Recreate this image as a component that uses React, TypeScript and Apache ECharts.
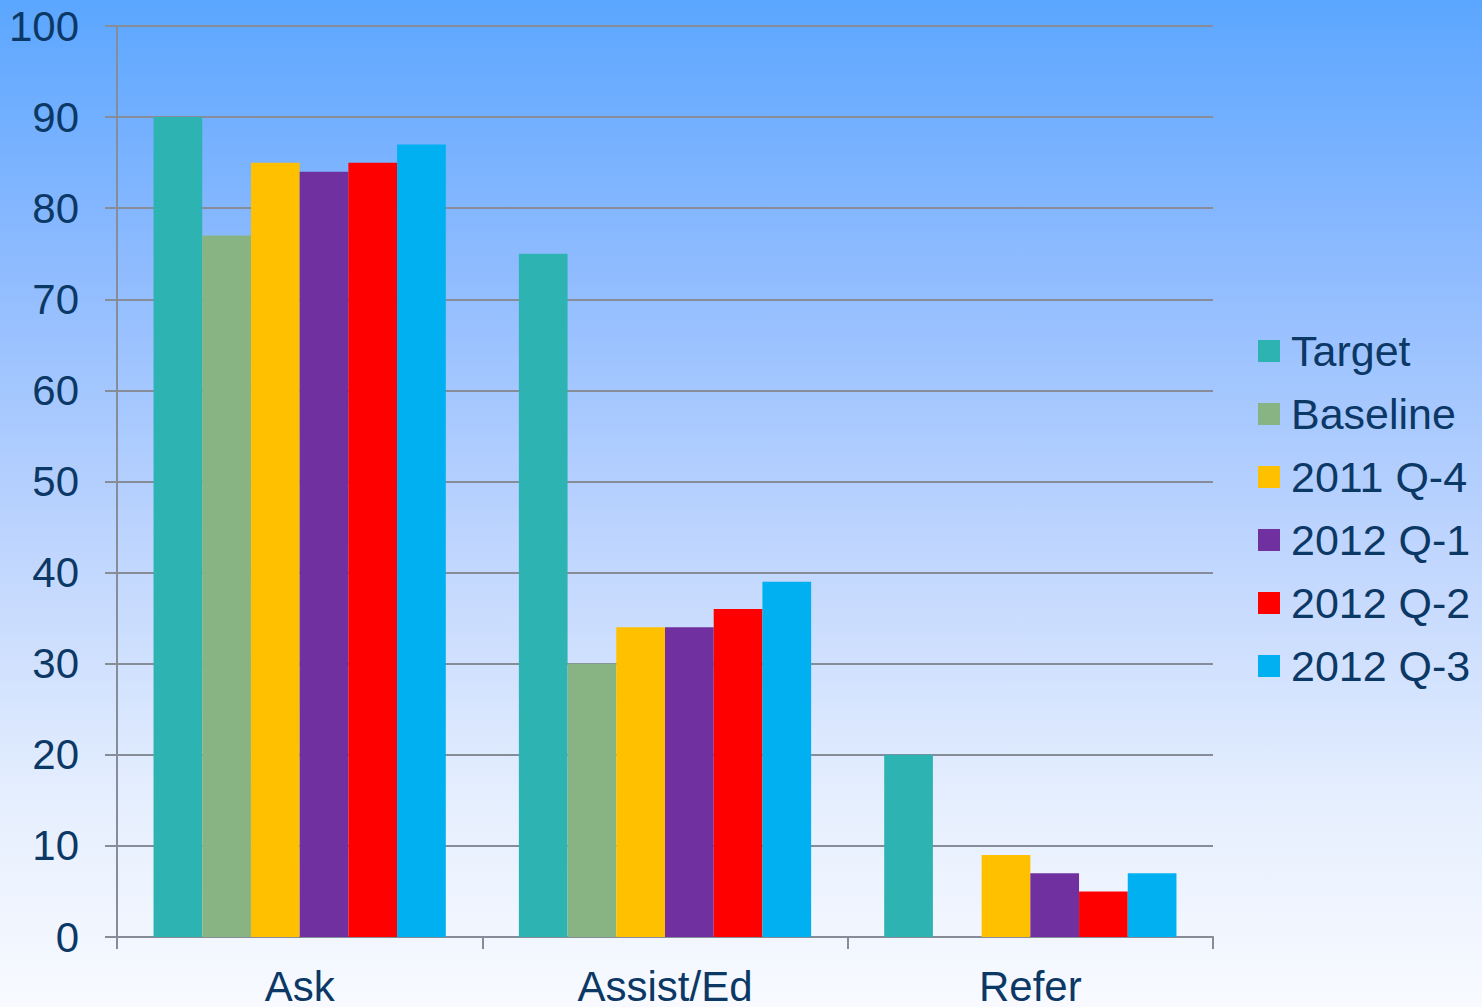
import React, { useEffect, useRef } from "react";
import * as echarts from "echarts";

const categories = ["Ask", "Assist/Ed", "Refer"];
const seriesNames = ["Target", "Baseline", "2011 Q-4", "2012 Q-1", "2012 Q-2", "2012 Q-3"];
const target = [90, 75, 20];
const baseline = [77, 30, 0];
const q4_2011 = [85, 34, 9];
const q1_2012 = [84, 34, 7];
const q2_2012 = [85, 36, 5];
const q3_2012 = [87, 39, 7];
const seriesValues = [target, baseline, q4_2011, q1_2012, q2_2012, q3_2012];
const colors = ["#2eb3b3", "#88b484", "#ffc000", "#7030a0", "#ff0000", "#00b0f0"];

const textColor = "#0c3866";
const axisGray = "#878c99";
const font = "'Liberation Sans', Arial, sans-serif";

export default function App() {
  const ref = useRef<HTMLDivElement>(null);
  useEffect(() => {
    if (!ref.current) return;
    const chart = echarts.init(ref.current, null, { renderer: "svg" });
    chart.setOption({
      animation: false,
      backgroundColor: "transparent",
      textStyle: { fontFamily: font },
      grid: { left: 117, right: 269, top: 26, bottom: 69, containLabel: false },
      legend: {
        orient: "vertical",
        left: 1253,
        top: 323,
        itemWidth: 22,
        itemHeight: 22,
        itemGap: 17,
        icon: "rect",
        data: seriesNames,
        textStyle: {
          fontSize: 43,
          color: textColor,
          fontFamily: font,
          lineHeight: 46,
          padding: [0, 0, 0, 6],
        },
      },
      xAxis: {
        type: "category",
        data: categories,
        axisLine: { show: true, lineStyle: { color: axisGray, width: 2 } },
        axisTick: { show: true, length: 12, lineStyle: { color: axisGray, width: 2 } },
        axisLabel: { fontSize: 42, color: textColor, margin: 28, fontFamily: font },
      },
      yAxis: {
        type: "value",
        min: 0,
        max: 100,
        interval: 10,
        axisLine: { show: true, lineStyle: { color: axisGray, width: 2 } },
        axisTick: { show: true, length: 12, lineStyle: { color: axisGray, width: 2 } },
        axisLabel: { fontSize: 42, color: textColor, margin: 38, fontFamily: font },
        splitLine: { show: true, lineStyle: { color: axisGray, width: 2 } },
      },
      series: seriesNames.map((name, i) => ({
        name,
        type: "bar",
        data: seriesValues[i],
        barGap: "0%",
        barCategoryGap: "20%",
        itemStyle: { color: colors[i] },
      })),
    });
    return () => chart.dispose();
  }, []);
  return (
    <div
      style={{
        position: "fixed",
        left: 0,
        top: 0,
        width: 1482,
        height: 1007,
        background: "linear-gradient(to bottom, #5ba6ff 0%, #8cbaff 25%, #c0d6fe 55%, #e6effe 80%, #f8faff 100%)",
      }}
    >
      <div ref={ref} style={{ width: 1482, height: 1007 }} />
    </div>
  );
}
